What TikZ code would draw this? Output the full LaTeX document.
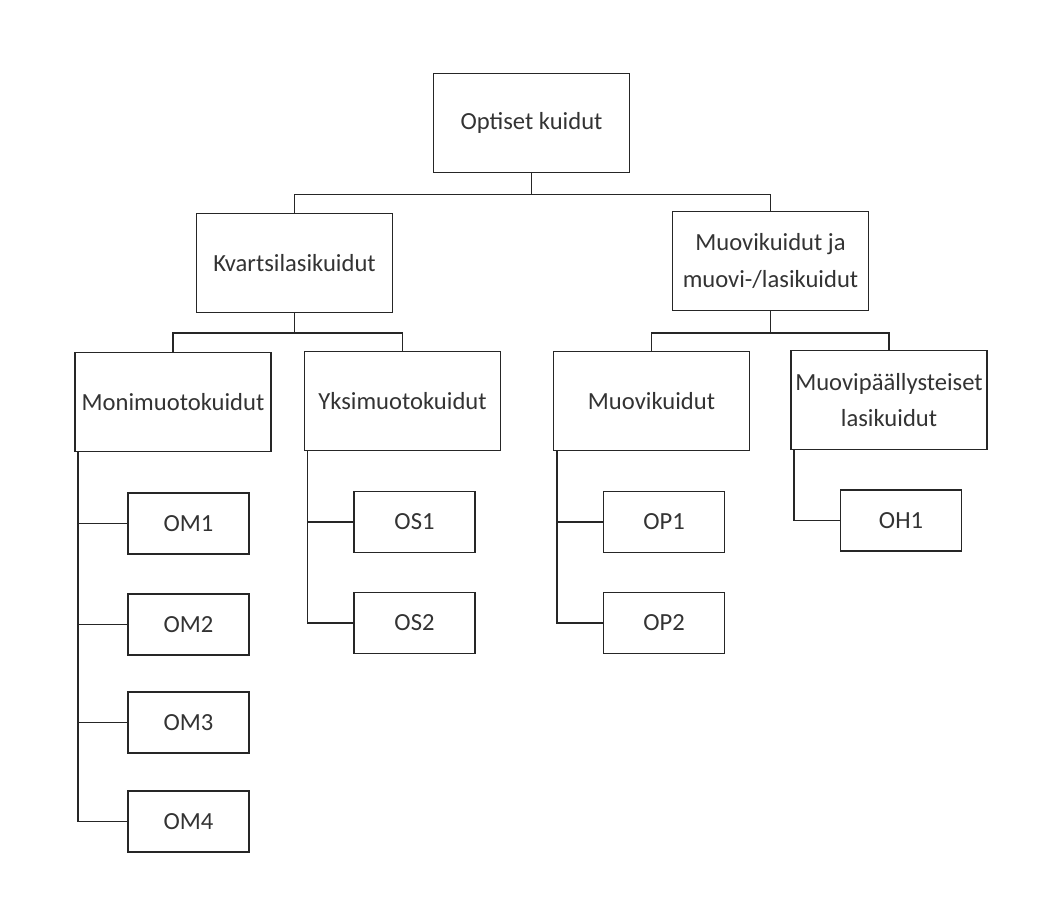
\documentclass[tikz,border=0pt]{standalone}
\usepackage{fontspec}
\setmainfont{Carlito}
\usepackage{tikz}
\usetikzlibrary{positioning}

\begin{document}
\begin{tikzpicture}[scale=0.2]
\tikzstyle{every node}+=[inner sep=0pt, text=black!80, font=\fontsize{14}{21}\selectfont]
\tikzstyle{bigbox}=[draw=black!85, line width=1pt, minimum width=3.92cm, minimum height=1.98cm, align=center]
\tikzstyle{leafbox}=[draw=black!85, line width=1pt, minimum width=2.42cm, minimum height=1.22cm]
\tikzstyle{conn}=[draw=black!85, line width=1pt]
\fill [white] (0,0) rectangle (105.1,-91.9);
\useasboundingbox (0,0) rectangle (105.1,-91.9);
% top level
\node [bigbox] (opt) at (53.15,-12.3) {Optiset kuidut};
\node [bigbox] (kv) at (29.45,-26.3) {Kvartsilasikuidut};
\node [bigbox] (mj) at (77.05,-26.1) {Muovikuidut ja\\muovi-/lasikuidut};
\draw [conn] (opt.south) -- ++(0,-2.1) -| (kv.north);
\draw [conn] (opt.south) -- ++(0,-2.1) -| (mj.north);
% second level
\node [bigbox] (mon) at (17.3,-40.2) {Monimuotokuidut};
\node [bigbox] (yk) at (40.25,-40.1) {Yksimuotokuidut};
\node [bigbox] (mk) at (65.15,-40.1) {Muovikuidut};
\node [bigbox] (mp) at (88.9,-40.0) {Muovip\"a\"allysteiset\\lasikuidut};
\draw [conn] (kv.south) -- ++(0,-1.95) -| (mon.north);
\draw [conn] (kv.south) -- ++(0,-1.95) -| (yk.north);
\draw [conn] (mj.south) -- ++(0,-2.15) -| (mk.north);
\draw [conn] (mj.south) -- ++(0,-2.15) -| (mp.north);
% fibre classes
\node [leafbox] (om1) at (18.85,-52.35) {OM1};
\node [leafbox] (om2) at (18.85,-62.45) {OM2};
\node [leafbox] (om3) at (18.85,-72.25) {OM3};
\node [leafbox] (om4) at (18.85,-82.15) {OM4};
\node [leafbox] (os1) at (41.45,-52.2) {OS1};
\node [leafbox] (os2) at (41.45,-62.3) {OS2};
\node [leafbox] (op1) at (66.4,-52.2) {OP1};
\node [leafbox] (op2) at (66.4,-62.3) {OP2};
\node [leafbox] (oh1) at (90.1,-52.05) {OH1};
\foreach \n in {om1,om2,om3,om4}
  \draw [conn] ([xshift=4.2mm]mon.south west) |- (\n.west);
\foreach \n in {os1,os2}
  \draw [conn] ([xshift=4mm]yk.south west) |- (\n.west);
\foreach \n in {op1,op2}
  \draw [conn] ([xshift=4mm]mk.south west) |- (\n.west);
\draw [conn] ([xshift=4mm]mp.south west) |- (oh1.west);
\end{tikzpicture}
\end{document}
